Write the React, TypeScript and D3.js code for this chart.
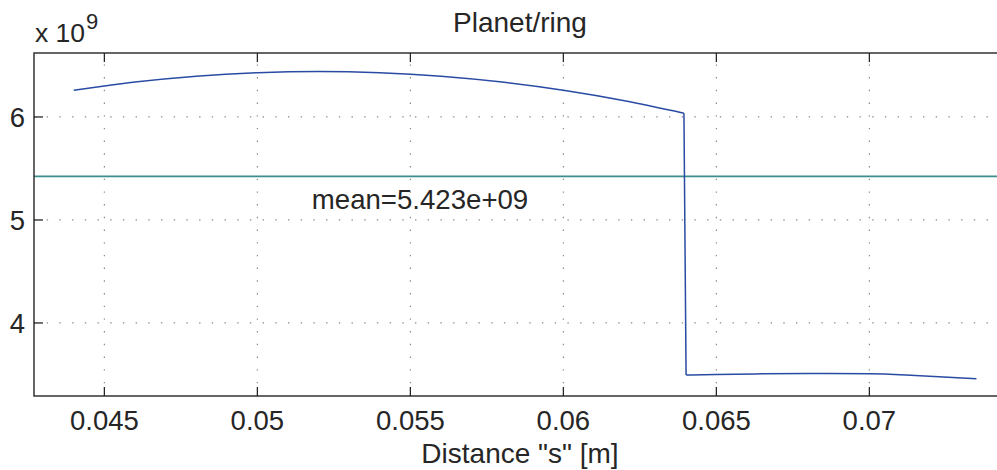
import React from "react";
import * as d3 from "d3";

const upperX = [0.044, 0.045, 0.046, 0.048, 0.05, 0.052, 0.054, 0.056, 0.058, 0.06, 0.062, 0.06394];
const upperY = [6.259, 6.301, 6.339, 6.396, 6.43, 6.442, 6.43, 6.396, 6.339, 6.259, 6.157, 6.036];
const lowerX = [0.06401, 0.065, 0.0665, 0.068, 0.07, 0.0715, 0.0735];
const lowerY = [3.495, 3.5, 3.506, 3.509, 3.506, 3.49, 3.459];
const meanValue = 5.423;
const meanLabel = "mean=5.423e+09";
const meanLabelPos = [0.05178, 5.2];
const xTicks = [0.045, 0.05, 0.055, 0.06, 0.065, 0.07];
const xTickLabels = ["0.045", "0.05", "0.055", "0.06", "0.065", "0.07"];
const yTicks = [4, 5, 6];
const yTickLabels = ["4", "5", "6"];
const xDomain = [0.0427, 0.074465];
const yDomain = [3.291, 6.621];
const titleText = "Planet/ring";
const xLabelText = 'Distance "s" [m]';

export default function App() {
  const W = 997, H = 470;
  const L = 34, R = 1006, T = 53, B = 396;
  const x = d3.scaleLinear().domain(xDomain).range([L, R]);
  const y = d3.scaleLinear().domain(yDomain).range([B, T]);
  const line = d3.line<number[]>().x(d => x(d[0])).y(d => y(d[1])).curve(d3.curveMonotoneX);
  const upperLine = line(upperX.map((v, i) => [v, upperY[i]]));
  const lowerLine = line(lowerX.map((v, i) => [v, lowerY[i]]));
  const stepLine = d3.line<number[]>().x(d => x(d[0])).y(d => y(d[1]))([
    [upperX[upperX.length - 1], upperY[upperY.length - 1]],
    [lowerX[0], lowerY[0]],
  ]);
  const font = "'Liberation Sans', Arial, Helvetica, sans-serif";
  const axisColor = "#262626";
  const gridColor = "#8a8a8a";
  const tickLen = 9;
  return (
    <svg width={W} height={H} style={{ position: "absolute", left: 0, top: 0, background: "#fff" }} fontFamily={font}>
      <rect x={0} y={0} width={W} height={H} fill="#fff" />
      {xTicks.map(t => (
        <line key={"gx" + t} x1={x(t)} x2={x(t)} y1={B} y2={T} stroke={gridColor} strokeWidth={1.2} strokeDasharray="1.4 11.3" />
      ))}
      {yTicks.map(t => (
        <line key={"gy" + t} x1={L} x2={R} y1={y(t)} y2={y(t)} stroke={gridColor} strokeWidth={1.2} strokeDasharray="1.4 11.3" />
      ))}
      {xTicks.map(t => (
        <g key={"tx" + t}>
          <line x1={x(t)} x2={x(t)} y1={B} y2={B - tickLen} stroke={axisColor} strokeWidth={1.3} />
          <line x1={x(t)} x2={x(t)} y1={T} y2={T + tickLen} stroke={axisColor} strokeWidth={1.3} />
        </g>
      ))}
      {yTicks.map(t => (
        <g key={"ty" + t}>
          <line x1={L} x2={L + tickLen} y1={y(t)} y2={y(t)} stroke={axisColor} strokeWidth={1.3} />
          <line x1={R} x2={R - tickLen} y1={y(t)} y2={y(t)} stroke={axisColor} strokeWidth={1.3} />
        </g>
      ))}
      <line x1={L} x2={R} y1={y(meanValue)} y2={y(meanValue)} stroke="#3b8e8b" strokeWidth={1.6} />
      <path d={upperLine || ""} fill="none" stroke="#2a4ba3" strokeWidth={1.5} />
      <path d={stepLine || ""} fill="none" stroke="#2a4ba3" strokeWidth={1.5} />
      <path d={lowerLine || ""} fill="none" stroke="#2a4ba3" strokeWidth={1.5} />
      <text x={x(meanLabelPos[0])} y={y(meanLabelPos[1])} dy="0.35em" fontSize={27.6} fill={axisColor}>{meanLabel}</text>
      <rect x={L} y={T} width={R - L} height={B - T} fill="none" stroke={axisColor} strokeWidth={1.4} />
      {xTicks.map((t, i) => (
        <text key={"lx" + t} x={x(t)} y={430} textAnchor="middle" fontSize={27.5} fill={axisColor}>{xTickLabels[i]}</text>
      ))}
      {yTicks.map((t, i) => (
        <text key={"ly" + t} x={25} y={y(t)} dy="0.35em" textAnchor="end" fontSize={27.5} fill={axisColor}>{yTickLabels[i]}</text>
      ))}
      <text x={35} y={42} fontSize={26.5} fill={axisColor}>
        x 10<tspan dx={1} dy={-13} fontSize={22}>9</tspan>
      </text>
      <text x={(L + R) / 2} y={32} textAnchor="middle" fontSize={28} fill={axisColor}>{titleText}</text>
      <text x={(L + R) / 2} y={463} textAnchor="middle" fontSize={28} fill={axisColor}>{xLabelText}</text>
    </svg>
  );
}
